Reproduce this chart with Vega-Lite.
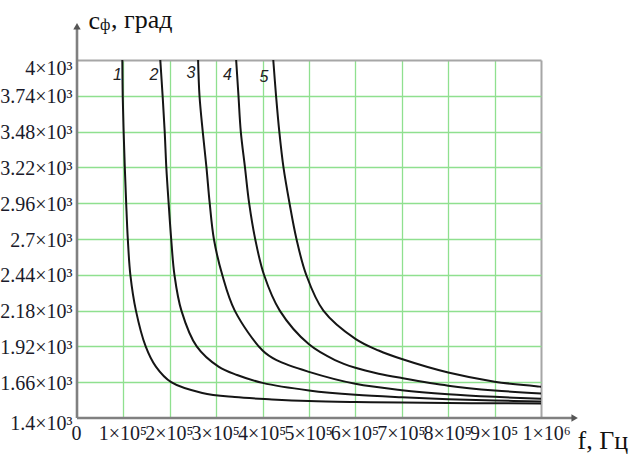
{
  "$schema": "https://vega.github.io/schema/vega-lite/v6.json",
  "autosize": "none",
  "width": 464,
  "height": 358,
  "padding": {"left": 77, "top": 60, "right": 94, "bottom": 38},
  "background": "white",
  "config": {"view": {"stroke": null}},
  "datasets": {
    "curves": [
      {"curve": "1", "f": 97700, "c": 4000}, {"curve": "1", "f": 98500, "c": 3740}, {"curve": "1", "f": 100500, "c": 3480}, {"curve": "1", "f": 103000, "c": 3220}, {"curve": "1", "f": 106000, "c": 2960}, {"curve": "1", "f": 109500, "c": 2700}, {"curve": "1", "f": 115000, "c": 2440}, {"curve": "1", "f": 127000, "c": 2180}, {"curve": "1", "f": 148000, "c": 1920}, {"curve": "1", "f": 170000, "c": 1773}, {"curve": "1", "f": 203000, "c": 1660}, {"curve": "1", "f": 270000, "c": 1582}, {"curve": "1", "f": 340000, "c": 1552}, {"curve": "1", "f": 420000, "c": 1535}, {"curve": "1", "f": 500000, "c": 1523}, {"curve": "1", "f": 600000, "c": 1516}, {"curve": "1", "f": 700000, "c": 1512}, {"curve": "1", "f": 850000, "c": 1508}, {"curve": "1", "f": 1000000, "c": 1506},
      {"curve": "2", "f": 179500, "c": 4000}, {"curve": "2", "f": 184500, "c": 3740}, {"curve": "2", "f": 189000, "c": 3480}, {"curve": "2", "f": 192500, "c": 3220}, {"curve": "2", "f": 197500, "c": 2960}, {"curve": "2", "f": 203000, "c": 2700}, {"curve": "2", "f": 210000, "c": 2440}, {"curve": "2", "f": 225000, "c": 2180}, {"curve": "2", "f": 258000, "c": 1920}, {"curve": "2", "f": 305000, "c": 1773}, {"curve": "2", "f": 345000, "c": 1712}, {"curve": "2", "f": 400000, "c": 1655}, {"curve": "2", "f": 500000, "c": 1600}, {"curve": "2", "f": 600000, "c": 1568}, {"curve": "2", "f": 700000, "c": 1550}, {"curve": "2", "f": 800000, "c": 1537}, {"curve": "2", "f": 900000, "c": 1527}, {"curve": "2", "f": 1000000, "c": 1520},
      {"curve": "3", "f": 261000, "c": 4000}, {"curve": "3", "f": 264000, "c": 3740}, {"curve": "3", "f": 271000, "c": 3480}, {"curve": "3", "f": 279000, "c": 3220}, {"curve": "3", "f": 286000, "c": 2960}, {"curve": "3", "f": 295000, "c": 2700}, {"curve": "3", "f": 313000, "c": 2440}, {"curve": "3", "f": 340000, "c": 2180}, {"curve": "3", "f": 400000, "c": 1890}, {"curve": "3", "f": 430000, "c": 1820}, {"curve": "3", "f": 500000, "c": 1735}, {"curve": "3", "f": 600000, "c": 1648}, {"curve": "3", "f": 700000, "c": 1602}, {"curve": "3", "f": 800000, "c": 1573}, {"curve": "3", "f": 900000, "c": 1554}, {"curve": "3", "f": 1000000, "c": 1540},
      {"curve": "4", "f": 343000, "c": 4000}, {"curve": "4", "f": 348000, "c": 3740}, {"curve": "4", "f": 353000, "c": 3480}, {"curve": "4", "f": 362000, "c": 3220}, {"curve": "4", "f": 371000, "c": 2960}, {"curve": "4", "f": 384000, "c": 2700}, {"curve": "4", "f": 403000, "c": 2440}, {"curve": "4", "f": 437000, "c": 2180}, {"curve": "4", "f": 500000, "c": 1935}, {"curve": "4", "f": 556000, "c": 1821}, {"curve": "4", "f": 600000, "c": 1765}, {"curve": "4", "f": 650000, "c": 1722}, {"curve": "4", "f": 700000, "c": 1690}, {"curve": "4", "f": 800000, "c": 1635}, {"curve": "4", "f": 900000, "c": 1600}, {"curve": "4", "f": 1000000, "c": 1578},
      {"curve": "5", "f": 423000, "c": 4000}, {"curve": "5", "f": 429000, "c": 3740}, {"curve": "5", "f": 436000, "c": 3480}, {"curve": "5", "f": 445000, "c": 3220}, {"curve": "5", "f": 458000, "c": 2960}, {"curve": "5", "f": 473000, "c": 2700}, {"curve": "5", "f": 494000, "c": 2440}, {"curve": "5", "f": 531000, "c": 2180}, {"curve": "5", "f": 600000, "c": 1975}, {"curve": "5", "f": 650000, "c": 1890}, {"curve": "5", "f": 700000, "c": 1828}, {"curve": "5", "f": 800000, "c": 1730}, {"curve": "5", "f": 900000, "c": 1664}, {"curve": "5", "f": 1000000, "c": 1627}
    ],
    "labels": [
      {"f": 87300, "c": 3891, "text": "1"},
      {"f": 165900, "c": 3891, "text": "2"},
      {"f": 245700, "c": 3909, "text": "3"},
      {"f": 324400, "c": 3891, "text": "4"},
      {"f": 403000, "c": 3880, "text": "5"}
    ]
  },
  "layer": [
    {
      "data": {"name": "curves"},
      "mark": {"type": "line", "color": "#151515", "strokeWidth": 2, "interpolate": "catmull-rom", "clip": false},
      "encoding": {
        "x": {
          "field": "f", "type": "quantitative",
          "scale": {"domain": [0, 1000000], "nice": false, "zero": false},
          "axis": {
            "values": [0, 100000, 200000, 300000, 400000, 500000, 600000, 700000, 800000, 900000, 1000000],
            "tickCount": 30,
            "labelExpr": "datum.value == 0 ? '0' : (datum.value == 1000000 ? '1×10⁶' : format(datum.value / 100000, 'd') + '×10⁵')",
            "labelOverlap": false, "labelBound": false, "labelFlush": false,
            "labelFont": "Liberation Serif", "labelFontSize": 20, "labelColor": "#1a1a2a",
            "labelPadding": 5,
            "labelOffset": {"condition": {"test": "datum.value == 1000000", "value": 5}, "value": -1},
            "domain": false, "ticks": false,
            "grid": true,
            "gridColor": {"condition": {"test": "datum.value == 1000000", "value": "#a6a6a6"}, "value": "#8fe08f"},
            "gridWidth": {"condition": {"test": "datum.value == 1000000", "value": 2}, "value": 1.3},
            "gridOpacity": {"condition": {"test": "datum.value == 0", "value": 0}, "value": 1},
            "title": "f, Гц",
            "titleFont": "Liberation Serif", "titleFontSize": 26, "titleFontWeight": "normal", "titleColor": "#111",
            "titleX": 500, "titleY": 30, "titleAlign": "left", "titleBaseline": "alphabetic", "titleAngle": 0
          }
        },
        "y": {
          "field": "c", "type": "quantitative",
          "scale": {"domain": [1400, 4000], "nice": false, "zero": false},
          "axis": {
            "values": [1400, 1660, 1920, 2180, 2440, 2700, 2960, 3220, 3480, 3740, 4000],
            "tickCount": 30,
            "labelExpr": "format(datum.value / 1000, '.3~g') + '×10³'",
            "labelOverlap": false, "labelBound": false, "labelFlush": false,
            "labelFont": "Liberation Serif", "labelFontSize": 20, "labelColor": "#1a1a2a",
            "labelPadding": 5,
            "labelOffset": {"condition": [{"test": "datum.value == 4000", "value": 8}, {"test": "datum.value == 1400", "value": 5}], "value": 1},
            "domain": false, "ticks": false,
            "grid": true,
            "gridColor": {"condition": {"test": "datum.value == 4000", "value": "#a6a6a6"}, "value": "#8fe08f"},
            "gridWidth": {"condition": {"test": "datum.value == 4000", "value": 2}, "value": 1.3},
            "gridOpacity": {"condition": {"test": "datum.value == 1400", "value": 0}, "value": 1},
            "title": "c",
            "titleFont": "Liberation Serif", "titleFontSize": 26, "titleFontWeight": "normal", "titleColor": "#111",
            "titleX": 11, "titleY": -32, "titleAlign": "left", "titleBaseline": "alphabetic", "titleAngle": 0
          }
        },
        "detail": {"field": "curve", "type": "nominal"}
      }
    },
    {
      "data": {"values": [{"f": 0, "c": 1400, "c2": 4235}]},
      "mark": {"type": "rule", "color": "#808080", "strokeWidth": 2.6, "clip": false},
      "encoding": {
        "x": {"field": "f", "type": "quantitative"},
        "y": {"field": "c", "type": "quantitative"},
        "y2": {"field": "c2"}
      }
    },
    {
      "data": {"values": [{"f": 0, "f2": 1068000, "c": 1400}]},
      "mark": {"type": "rule", "color": "#808080", "strokeWidth": 2.6, "clip": false},
      "encoding": {
        "x": {"field": "f", "type": "quantitative"},
        "x2": {"field": "f2"},
        "y": {"field": "c", "type": "quantitative"}
      }
    },
    {
      "data": {"values": [{"f": 0, "c": 4245}]},
      "mark": {"type": "point", "shape": "triangle-up", "size": 55, "filled": true, "color": "#555", "opacity": 1, "clip": false},
      "encoding": {
        "x": {"field": "f", "type": "quantitative"},
        "y": {"field": "c", "type": "quantitative"}
      }
    },
    {
      "data": {"values": [{"f": 1072500, "c": 1400}]},
      "mark": {"type": "point", "shape": "triangle-right", "size": 55, "filled": true, "color": "#555", "opacity": 1, "clip": false},
      "encoding": {
        "x": {"field": "f", "type": "quantitative"},
        "y": {"field": "c", "type": "quantitative"}
      }
    },
    {
      "data": {"name": "labels"},
      "mark": {"type": "text", "font": "Liberation Sans", "fontSize": 16, "fontStyle": "italic", "color": "#222", "align": "center", "baseline": "middle", "clip": false},
      "encoding": {
        "x": {"field": "f", "type": "quantitative"},
        "y": {"field": "c", "type": "quantitative"},
        "text": {"field": "text"}
      }
    },
    {
      "data": {"values": [{"f": 49600, "c": 4218, "text": "ф"}]},
      "mark": {"type": "text", "font": "Liberation Serif", "fontSize": 16, "color": "#111", "align": "left", "baseline": "alphabetic", "clip": false},
      "encoding": {
        "x": {"field": "f", "type": "quantitative"},
        "y": {"field": "c", "type": "quantitative"},
        "text": {"field": "text"}
      }
    },
    {
      "data": {"values": [{"f": 73300, "c": 4232, "text": ", град"}]},
      "mark": {"type": "text", "font": "Liberation Serif", "fontSize": 26, "color": "#111", "align": "left", "baseline": "alphabetic", "clip": false},
      "encoding": {
        "x": {"field": "f", "type": "quantitative"},
        "y": {"field": "c", "type": "quantitative"},
        "text": {"field": "text"}
      }
    }
  ]
}
